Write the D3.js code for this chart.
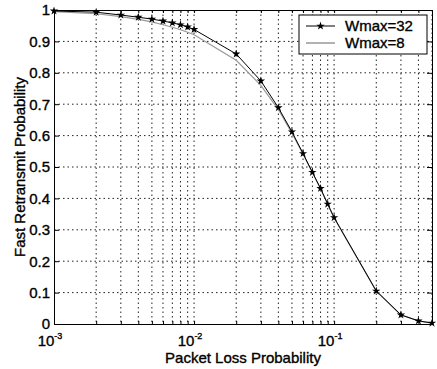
<!DOCTYPE html>
<html>
<head>
<meta charset="utf-8">
<script src="https://cdn.jsdelivr.net/npm/d3@7"></script>
<style>
body { margin: 0; background: #fff; }
svg { display: block; font-family: "Liberation Sans", Arial, sans-serif; }
svg text { stroke: #000; stroke-width: 0.35; }
</style>
</head>
<body>
<div id="chart"></div>
<script>
// Fast retransmit probability vs packet loss probability (log x axis)

let lossProb  = [0.001, 0.002, 0.003, 0.004, 0.005, 0.006, 0.007, 0.008, 0.009, 0.01,
                 0.02, 0.03, 0.04, 0.05, 0.06, 0.07, 0.08, 0.09, 0.1,
                 0.2, 0.3, 0.4, 0.5] ;
let wmax32    = [0.997, 0.993, 0.984, 0.977, 0.971, 0.965, 0.959, 0.953, 0.946, 0.938,
                 0.860, 0.774, 0.689, 0.612, 0.543, 0.483, 0.432, 0.382, 0.339,
                 0.105, 0.029, 0.010, 0.003] ;
let wmax8     = [0.995, 0.988, 0.979, 0.970, 0.962, 0.953, 0.945, 0.937, 0.929, 0.921,
                 0.840, 0.760, 0.683, 0.608, 0.541, 0.482, 0.431, 0.381, 0.338,
                 0.105, 0.029, 0.010, 0.003] ;
let xMajor    = [0.001, 0.01, 0.1] ;
let xMajorExp = ["-3", "-2", "-1"] ;
let yTicks    = [0, 0.1, 0.2, 0.3, 0.4, 0.5, 0.6, 0.7, 0.8, 0.9, 1] ;
let seriesNames = ["Wmax=32", "Wmax=8"] ;

let margin = { top: 10, right: 5, bottom: 45, left: 54 } ;
let svgwidth  = 437 ;
let svgheight = 369 ;
let width  = svgwidth  - margin.left - margin.right ;
let height = svgheight - margin.top  - margin.bottom ;

let svg = d3.select("#chart").append("svg")
            .attr("width", svgwidth)
            .attr("height", svgheight) ;

let g = svg.append("g").attr("transform", "translate(" + margin.left + "," + margin.top + ")") ;

let x = d3.scaleLog().domain([0.001, 0.5]).range([0, width]) ;
let y = d3.scaleLinear().domain([0, 1]).range([height, 0]) ;

// minor positions 1..9 x 10^k inside the domain
let xMinor = [] ;
[0.001, 0.01, 0.1].forEach(function(d){
    for (let k = 1; k <= 9; k++) {
        let v = +(d * k).toPrecision(3) ;
        if (v <= 0.5) xMinor.push(v) ;
    }
}) ;

// grid
g.append("g").selectAll("line").data(xMinor.filter(function(v){ return v > 0.001 ; })).enter().append("line")
    .attr("x1", function(d){ return x(d) ; }).attr("x2", function(d){ return x(d) ; })
    .attr("y1", 0).attr("y2", height)
    .attr("stroke", "#222").attr("stroke-width", 1).attr("stroke-dasharray", "1.5,3") ;

g.append("g").selectAll("line").data(yTicks.slice(1, -1)).enter().append("line")
    .attr("x1", 0).attr("x2", width)
    .attr("y1", function(d){ return y(d) ; }).attr("y2", function(d){ return y(d) ; })
    .attr("stroke", "#222").attr("stroke-width", 1).attr("stroke-dasharray", "1.5,3") ;

// axes (ticks inside, MATLAB style)
let xAxisB = d3.axisBottom(x).tickValues(xMinor).tickSizeInner(-3).tickSizeOuter(0).tickFormat("") ;
let xAxisT = d3.axisTop(x).tickValues(xMinor).tickSizeInner(-3).tickSizeOuter(0).tickFormat("") ;
let yAxisL = d3.axisLeft(y).tickValues(yTicks).tickSizeInner(-5).tickSizeOuter(0).tickFormat(d3.format("")) ;
let yAxisR = d3.axisRight(y).tickValues(yTicks).tickSizeInner(-5).tickSizeOuter(0).tickFormat("") ;

g.append("g").attr("transform", "translate(0," + height + ")").call(xAxisB) ;
g.append("g").call(xAxisT) ;
let yl = g.append("g").call(yAxisL) ;
g.append("g").attr("transform", "translate(" + width + ",0)").call(yAxisR) ;

g.selectAll(".domain").attr("stroke", "#000") ;
g.selectAll(".tick line").attr("stroke", "#000") ;
yl.selectAll("text").attr("x", -4).attr("font-size", 15).attr("fill", "#000") ;

// major x tick labels with superscript exponent
let xl = g.append("g").selectAll("text").data(xMajor).enter().append("text")
    .attr("x", function(d){ return x(d) - 4 ; })
    .attr("y", height + 22)
    .attr("text-anchor", "middle")
    .attr("font-size", 15)
    .attr("fill", "#000") ;
xl.append("tspan").text("10") ;
xl.append("tspan").attr("dy", -7).attr("font-size", 9).text(function(d, i){ return xMajorExp[i] ; }) ;

// lines
let line = d3.line()
    .x(function(d){ return x(d[0]) ; })
    .y(function(d){ return y(d[1]) ; }) ;

let data32 = lossProb.map(function(v, i){ return [v, wmax32[i]] ; }) ;
let data8  = lossProb.map(function(v, i){ return [v, wmax8[i]] ; }) ;

g.append("path").datum(data8)
    .attr("fill", "none").attr("stroke", "#999").attr("stroke-width", 1.2)
    .attr("d", line) ;

g.append("path").datum(data32)
    .attr("fill", "none").attr("stroke", "#000").attr("stroke-width", 1)
    .attr("d", line) ;

let star = d3.symbol().type(d3.symbolStar).size(22) ;
g.append("g").selectAll("path").data(data32).enter().append("path")
    .attr("transform", function(d){ return "translate(" + x(d[0]) + "," + y(d[1]) + ")" ; })
    .attr("d", star)
    .attr("fill", "#000") ;

// legend
let leg = svg.append("g").attr("transform", "translate(299,15)") ;
leg.append("rect").attr("width", 128).attr("height", 39)
    .attr("fill", "#fff").attr("stroke", "#000").attr("stroke-width", 1) ;
leg.append("line").attr("x1", 7).attr("x2", 36).attr("y1", 11).attr("y2", 11)
    .attr("stroke", "#000").attr("stroke-width", 1) ;
leg.append("path").attr("transform", "translate(21.5,11)").attr("d", star).attr("fill", "#000") ;
leg.append("line").attr("x1", 7).attr("x2", 36).attr("y1", 28).attr("y2", 28)
    .attr("stroke", "#999").attr("stroke-width", 1.5) ;
leg.selectAll("text.lab").data(seriesNames).enter().append("text")
    .attr("class", "lab")
    .attr("x", 46)
    .attr("y", function(d, i){ return 16 + i * 17 ; })
    .attr("font-size", 15)
    .attr("fill", "#000")
    .text(function(d){ return d ; }) ;

// axis titles
svg.append("text")
    .attr("x", margin.left + width / 2)
    .attr("y", 363)
    .attr("text-anchor", "middle")
    .attr("font-size", 15)
    .attr("fill", "#000")
    .text("Packet Loss Probability") ;

svg.append("text")
    .attr("transform", "translate(25," + (margin.top + height / 2) + ") rotate(-90)")
    .attr("text-anchor", "middle")
    .attr("font-size", 15)
    .attr("fill", "#000")
    .text("Fast Retransmit Probability") ;
</script>
</body>
</html>
